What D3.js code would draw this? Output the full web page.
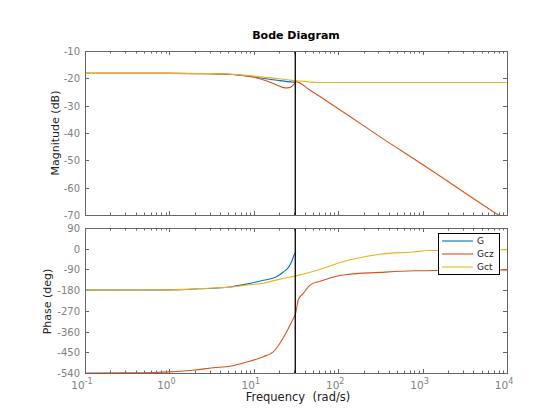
<!DOCTYPE html>
<html><head><meta charset="utf-8">
<script src="https://cdn.jsdelivr.net/npm/d3@7"></script>
<style>
html,body{margin:0;padding:0;background:#fff;}
svg{display:block;font-family:"DejaVu Sans",sans-serif;}
</style></head>
<body><svg id="c" width="560" height="420"></svg>
<script>
// ---- data ----
const seriesNames = ["G", "Gcz", "Gct"];
const seriesColors = ["#0072BD", "#D95319", "#EDB120"];

const magFreqG   = [0.1, 1, 3, 5, 8, 12, 18, 25, 31.6];
const magG       = [-18.2, -18.2, -18.3, -18.5, -19.0, -19.9, -20.6, -21.2, -21.5];

const magFreqGcz = [0.1, 1, 3, 4.2, 7, 10, 14, 18.6, 23.4, 27, 29.5, 31.6, 46, 80, 411, 1019, 7900, 10000];
const magGcz     = [-18.2, -18.2, -18.3, -18.4, -18.9, -19.6, -20.9, -22.4, -23.5, -23.3, -22.4, -21.2, -24.3, -29.1, -43.8, -51.7, -70, -72];

const magFreqGct = [0.1, 1, 3, 5, 8, 12, 18, 25, 31.6, 40, 48, 60, 100, 1000, 10000];
const magGct     = [-18.2, -18.2, -18.25, -18.4, -18.9, -19.4, -20.0, -20.5, -20.9, -21.1, -21.4, -21.5, -21.5, -21.5, -21.5];

const phFreqG    = [0.1, 1, 2.3, 5.2, 8.2, 13, 18.6, 22.4, 26, 28, 30.4, 31.6];
const phG        = [-180, -179, -174, -166, -154, -137, -122, -101, -79, -57, -23, -14];

const phFreqGcz  = [0.1, 0.5, 1, 2, 3.3, 5.2, 8.2, 13, 17, 20.4, 24.5, 28, 31.6, 33.6, 38.6, 46.4, 61, 80, 126, 313, 776, 1928, 10000];
const phGcz      = [-540, -539, -535, -527, -517, -511, -493, -469, -448, -411, -361, -318, -274, -223, -194, -158, -141, -127, -112, -103, -96, -94, -92];

const phFreqGct  = [0.1, 1, 2.3, 5.2, 8.2, 13, 20.4, 31.6, 50, 80, 100, 198, 313, 776, 1230, 3000, 10000];
const phGct      = [-180, -179, -173, -167, -158, -150, -132, -118, -99, -75, -62, -36, -24, -14, -8, -6, -4];

const crossFreq = 31;
const xDecades = [-1, 0, 1, 2, 3, 4];
const magTicks = [-10, -20, -30, -40, -50, -60, -70];
const phTicks = [90, 0, -90, -180, -270, -360, -450, -540];

// ---- drawing ----
const svg = d3.select("#c");
const L = 85, R = 507;
const magTop = 51, magBot = 215, phTop = 228, phBot = 373;
const axisCol = "#666666", tickLabCol = "#808080";

const x = d3.scaleLog().domain([0.1, 1e4]).range([L, R]);
const yMag = d3.scaleLinear().domain([-70, -10]).range([magBot, magTop]);
const yPh = d3.scaleLinear().domain([-540, 90]).range([phBot, phTop]);

const minorTicks = [];
xDecades.slice(0, -1).forEach(e => { for (let k = 2; k <= 9; k++) minorTicks.push(k * Math.pow(10, e)); });

function panel(id, y, yt, top, bot) {
  const g = svg.append("g");
  const defs = svg.append("defs");
  defs.append("clipPath").attr("id", id).append("rect")
    .attr("x", L).attr("y", top).attr("width", R - L).attr("height", bot - top);
  const tk = g.append("g").attr("stroke", axisCol).attr("stroke-width", 1);
  xDecades.forEach(e => {
    const xx = Math.round(x(Math.pow(10, e))) + 0.5;
    tk.append("line").attr("x1", xx).attr("x2", xx).attr("y1", bot).attr("y2", bot - 4);
    tk.append("line").attr("x1", xx).attr("x2", xx).attr("y1", top).attr("y2", top + 4);
  });
  minorTicks.forEach(v => {
    const xx = Math.round(x(v)) + 0.5;
    tk.append("line").attr("x1", xx).attr("x2", xx).attr("y1", bot).attr("y2", bot - 2.5);
    tk.append("line").attr("x1", xx).attr("x2", xx).attr("y1", top).attr("y2", top + 2.5);
  });
  yt.forEach(v => {
    const yy = Math.round(y(v)) + 0.5;
    tk.append("line").attr("x1", L).attr("x2", L + 4).attr("y1", yy).attr("y2", yy);
    tk.append("line").attr("x1", R).attr("x2", R - 4).attr("y1", yy).attr("y2", yy);
    g.append("text").attr("x", L - 5).attr("y", yy).attr("dy", "0.35em")
      .attr("text-anchor", "end").attr("font-size", 10).attr("fill", tickLabCol).text(v);
  });
  return {g, clip: "url(#" + id + ")"};
}

const pm = panel("clipMag", yMag, magTicks, magTop, magBot);
const pp = panel("clipPh", yPh, phTicks, phTop, phBot);

function drawLine(p, fr, vals, y, col) {
  const pts = fr.map((f, i) => [f, vals[i]]);
  p.g.append("path").datum(pts)
    .attr("clip-path", p.clip)
    .attr("fill", "none").attr("stroke", col).attr("stroke-width", 1.1)
    .attr("d", d3.line().x(d => x(d[0])).y(d => y(d[1])).curve(d3.curveMonotoneX));
}

drawLine(pm, magFreqG, magG, yMag, seriesColors[0]);
drawLine(pm, magFreqGcz, magGcz, yMag, seriesColors[1]);
drawLine(pm, magFreqGct, magGct, yMag, seriesColors[2]);
drawLine(pp, phFreqG, phG, yPh, seriesColors[0]);
drawLine(pp, phFreqGcz, phGcz, yPh, seriesColors[1]);
drawLine(pp, phFreqGct, phGct, yPh, seriesColors[2]);

[[magTop, magBot], [phTop, phBot]].forEach(([t, b]) => {
  svg.append("line").attr("x1", x(crossFreq)).attr("x2", x(crossFreq))
    .attr("y1", t).attr("y2", b).attr("stroke", "#000").attr("stroke-width", 1.3);
});

[[magTop, magBot], [phTop, phBot]].forEach(([t, b]) => {
  svg.append("rect").attr("x", L + 0.5).attr("y", t + 0.5).attr("width", R - L).attr("height", b - t)
    .attr("fill", "none").attr("stroke", axisCol).attr("stroke-width", 1);
});

xDecades.forEach(e => {
  const t = svg.append("text").attr("x", x(Math.pow(10, e)) - 3).attr("y", 389)
    .attr("text-anchor", "middle").attr("font-size", 10.5).attr("fill", tickLabCol);
  t.append("tspan").text("10");
  t.append("tspan").attr("dy", -5).attr("font-size", 8).text(e);
});

svg.append("text").attr("x", 296).attr("y", 39).attr("text-anchor", "middle")
  .attr("font-size", 11).attr("font-weight", "bold").attr("fill", "#000").text("Bode Diagram");
svg.append("text").attr("transform", "translate(59," + ((magTop + magBot) / 2) + ") rotate(-90)")
  .attr("text-anchor", "middle").attr("font-size", 11).attr("fill", "#222").text("Magnitude (dB)");
svg.append("text").attr("transform", "translate(51," + ((phTop + phBot) / 2 + 1) + ") rotate(-90)")
  .attr("text-anchor", "middle").attr("font-size", 11).attr("fill", "#222").text("Phase (deg)");
svg.append("text").attr("x", 298).attr("y", 401).attr("text-anchor", "middle")
  .attr("font-size", 11.5).attr("fill", "#222").attr("xml:space", "preserve").text("Frequency  (rad/s)");

const lg = svg.append("g");
lg.append("rect").attr("x", 438.5).attr("y", 233.5).attr("width", 61).attr("height", 41)
  .attr("fill", "#fff").attr("stroke", "#000").attr("stroke-width", 1);
seriesNames.forEach((n, i) => {
  const yy = 241 + i * 13;
  lg.append("line").attr("x1", 442).attr("x2", 473).attr("y1", yy).attr("y2", yy)
    .attr("stroke", seriesColors[i]).attr("stroke-width", 1.1);
  lg.append("text").attr("x", 477).attr("y", yy).attr("dy", "0.35em")
    .attr("font-size", 9).attr("fill", "#222").text(n);
});
</script></body></html>
